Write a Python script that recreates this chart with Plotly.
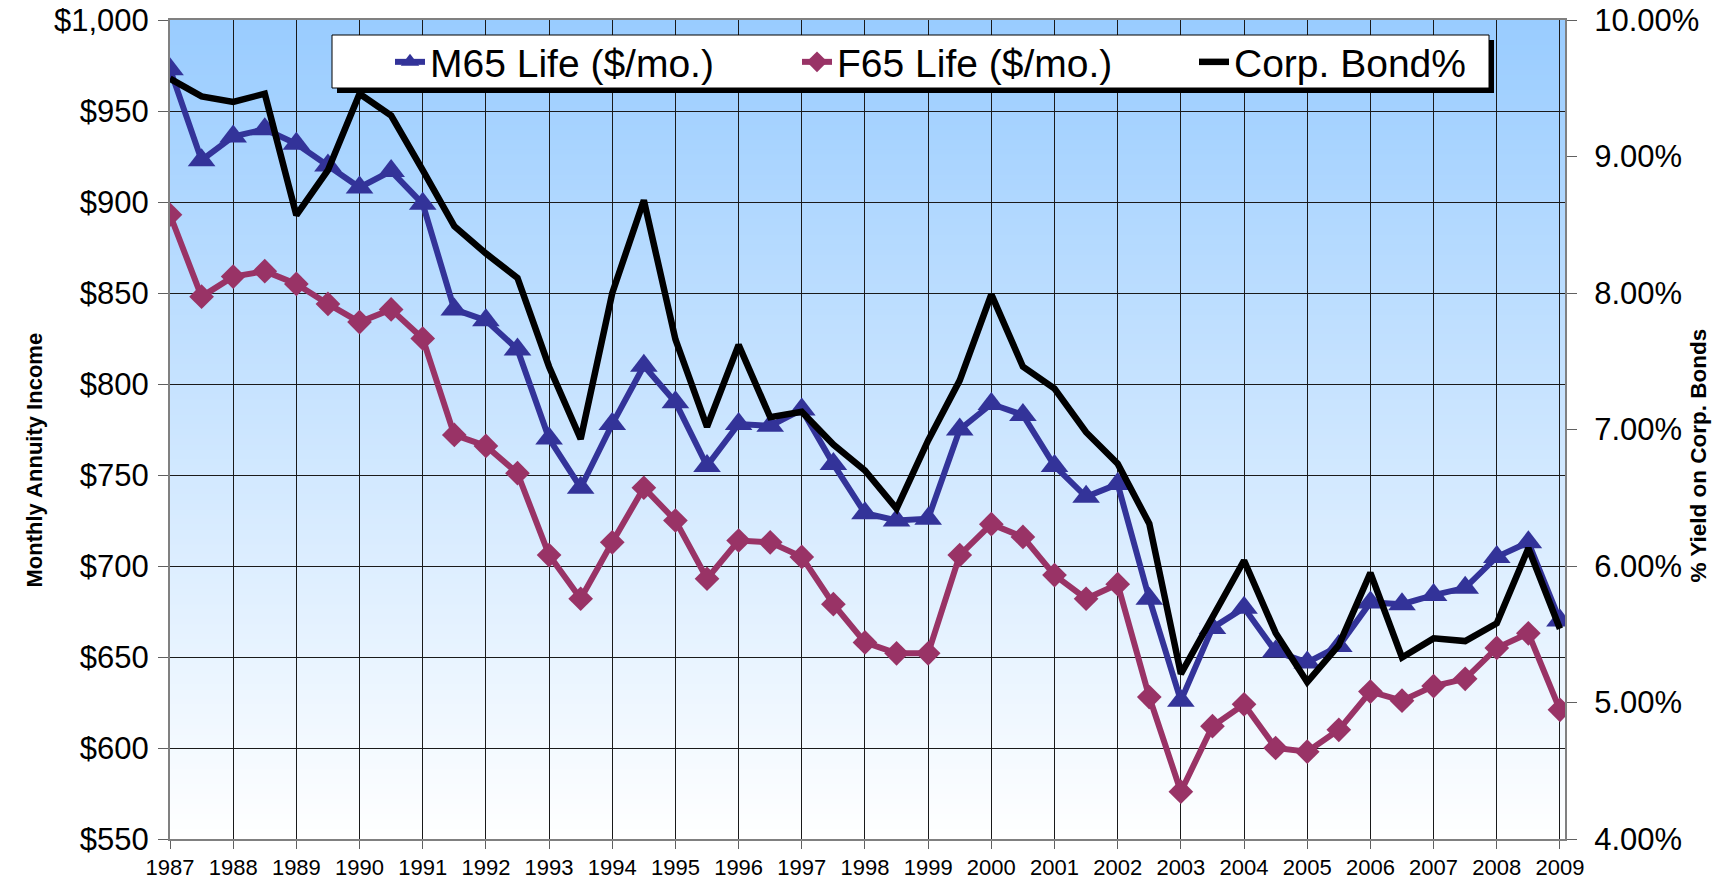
import plotly.graph_objects as go

# Semi-annual observation dates
periods = [1987.0, 1987.5, 1988.0, 1988.5, 1989.0, 1989.5, 1990.0, 1990.5, 1991.0, 1991.5,
           1992.0, 1992.5, 1993.0, 1993.5, 1994.0, 1994.5, 1995.0, 1995.5, 1996.0, 1996.5,
           1997.0, 1997.5, 1998.0, 1998.5, 1999.0, 1999.5, 2000.0, 2000.5, 2001.0, 2001.5,
           2002.0, 2002.5, 2003.0, 2003.5, 2004.0, 2004.5, 2005.0, 2005.5, 2006.0, 2006.5,
           2007.0, 2007.5, 2008.0, 2008.5, 2009.0]

m65_income = [973, 923, 936, 940, 932, 920, 908, 917, 899, 841,
              835, 819, 770, 743, 778, 810, 790, 755, 778, 777,
              786, 756, 729, 725, 726, 775, 789, 783, 755, 738,
              745, 682, 626, 666, 677, 653, 647, 656, 680, 679,
              684, 688, 705, 713, 670]

f65_income = [893, 848, 859, 862, 855, 844, 834, 841, 825, 772,
              766, 751, 706, 682, 713, 743, 725, 693, 714, 713,
              705, 679, 658, 652, 652, 706, 723, 716, 695, 682,
              690, 628, 576, 612, 624, 600, 598, 610, 631, 626,
              634, 638, 655, 663, 621]

corp_bond_pct = [9.57, 9.44, 9.40, 9.46, 8.57, 8.90, 9.46, 9.30, 8.90, 8.49,
                 8.29, 8.11, 7.46, 6.93, 8.00, 8.68, 7.66, 7.02, 7.62, 7.09,
                 7.13, 6.89, 6.70, 6.42, 6.92, 7.36, 7.99, 7.46, 7.30, 6.98,
                 6.75, 6.31, 5.21, 5.62, 6.04, 5.51, 5.15, 5.42, 5.95, 5.33,
                 5.47, 5.45, 5.58, 6.13, 5.54]

year_ticks = [1987, 1988, 1989, 1990, 1991, 1992, 1993, 1994, 1995, 1996, 1997, 1998,
              1999, 2000, 2001, 2002, 2003, 2004, 2005, 2006, 2007, 2008, 2009]
year_labels = [str(y) for y in year_ticks]

series_names = ["M65 Life ($/mo.)", "F65 Life ($/mo.)", "Corp. Bond%"]

FONT = "Liberation Sans, Arial, sans-serif"
W, H = 1735, 886
L, R, T, B = 170, 170, 20, 47
PW, PH = W - L - R, H - T - B


def px_x(px):
    return (px - L) / PW


def px_y(py):
    return (H - B - py) / PH


fig = go.Figure()
fig.add_trace(go.Scatter(
    x=periods, y=m65_income, name=series_names[0], mode="lines+markers",
    line=dict(color="#333399", width=6),
    marker=dict(symbol="triangle-up", size=24, color="#333399", line=dict(width=0)),
    legendwidth=362,
))
fig.add_trace(go.Scatter(
    x=periods, y=f65_income, name=series_names[1], mode="lines+markers",
    line=dict(color="#993366", width=6),
    marker=dict(symbol="diamond", size=19, color="#993366", line=dict(width=0)),
    legendwidth=352,
))
fig.add_trace(go.Scatter(
    x=periods, y=corp_bond_pct, name=series_names[2], mode="lines", yaxis="y2",
    line=dict(color="#000000", width=6.5),
))

shapes = []
# vertical gradient background (light blue at top -> white at bottom)
n = 164
top = (153, 204, 255)
for i in range(n):
    t = (i + 0.5) / n
    c = tuple(round(255 + (tc - 255) * t) for tc in top)
    shapes.append(dict(type="rect", xref="paper", yref="paper", x0=0, x1=1,
                       y0=i / n, y1=(i + 1) / n + 0.002, layer="below",
                       fillcolor="rgb(%d,%d,%d)" % c, line=dict(width=0)))
# legend box with drop shadow
shapes.append(dict(type="rect", xref="paper", yref="paper",
                   x0=px_x(337), x1=px_x(1494), y0=px_y(93), y1=px_y(40),
                   fillcolor="black", line=dict(width=0), layer="above"))
shapes.append(dict(type="rect", xref="paper", yref="paper",
                   x0=px_x(332), x1=px_x(1489), y0=px_y(88), y1=px_y(35),
                   fillcolor="white", line=dict(color="black", width=1), layer="above"))

axis_common = dict(showline=True, linecolor="#808080", linewidth=2, zeroline=False,
                   ticks="outside", tickcolor="#606060", tickwidth=1)

fig.update_layout(
    width=W, height=H,
    margin=dict(l=L, r=R, t=T, b=B, autoexpand=False),
    paper_bgcolor="white", plot_bgcolor="white",
    font=dict(family=FONT, color="black"),
    shapes=shapes,
    showlegend=True,
    legend=dict(orientation="h", x=px_x(390), xanchor="left", y=px_y(30), yanchor="top",
                bgcolor="rgba(0,0,0,0)", borderwidth=0, font=dict(size=39, family=FONT),
                itemsizing="trace"),
    xaxis=dict(range=[1987, 2009.08], tickmode="array", tickvals=year_ticks, ticktext=year_labels,
               tickfont=dict(size=22), ticklen=8, showgrid=True, gridcolor="#1a1a1a", gridwidth=1,
               mirror=True, **axis_common),
    yaxis=dict(range=[550, 1000], tick0=550, dtick=50, tickprefix="$", tickformat=",d",
               tickfont=dict(size=31), ticklen=10, ticklabelstandoff=3,
               showgrid=True, gridcolor="#1a1a1a", gridwidth=1,
               mirror=True, **axis_common),
    yaxis2=dict(range=[4, 10], tick0=4, dtick=1, tickformat=".2f", ticksuffix="%",
                overlaying="y", side="right", showgrid=False,
                tickfont=dict(size=31), ticklen=10, ticklabelstandoff=11, **axis_common),
    annotations=[
        dict(text="Monthly Annuity Income", xref="paper", yref="paper",
             x=px_x(19), y=px_y(460), textangle=-90, showarrow=False,
             font=dict(size=22, family=FONT, weight="bold")),
        dict(text="% Yield on Corp. Bonds", xref="paper", yref="paper",
             x=px_x(1712), y=px_y(456), textangle=-90, showarrow=False,
             font=dict(size=22.5, family=FONT, weight="bold")),
    ],
)

fig.write_html("out.html", config={"displayModeBar": False},
               post_script="document.body.style.margin='0';document.body.style.overflow='hidden';")
